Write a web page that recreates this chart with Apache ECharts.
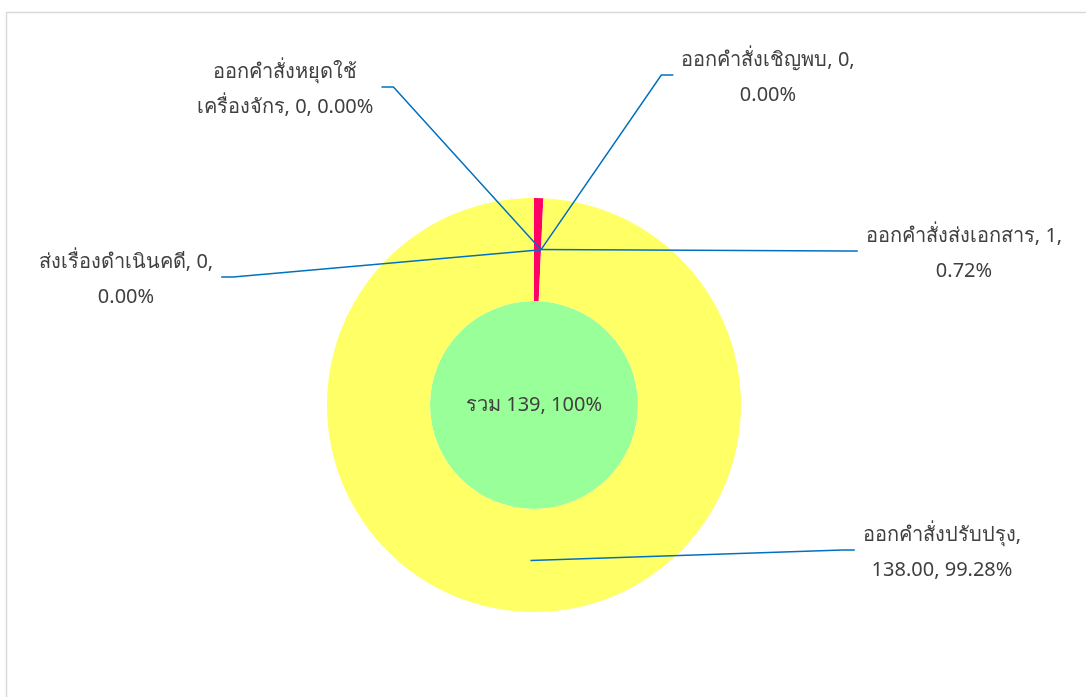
<!DOCTYPE html>
<html>
<head>
<meta charset="utf-8">
<script src="https://cdn.jsdelivr.net/npm/echarts@6/dist/echarts.min.js"></script>
<style>
html,body{margin:0;padding:0;background:#fff;}
#chart{width:1086px;height:697px;}
</style>
</head>
<body>
<div id="chart"></div>
<script>
// ---- data ----
const categories = ['ออกคำสั่งส่งเอกสาร', 'ออกคำสั่งเชิญพบ', 'ออกคำสั่งหยุดใช้เครื่องจักร', 'ส่งเรื่องดำเนินคดี', 'ออกคำสั่งปรับปรุง'];
const values = [1, 0, 0, 0, 138];
const valueLabels = ['1', '0', '0', '0', '138.00'];
const totalName = 'รวม';
const totalValue = 139;
const colors = ['#FF0066', '#FFFF66', '#FFFF66', '#FFFF66', '#FFFF66'];

// ---- layout / style (not data) ----
const CX = 534, CY = 405, R0 = 104, R1 = 207;
const labelPos = [
  {x: 964, y: 254, side: 'left'},
  {x: 768, y: 78, side: 'left'},
  {x: 285, y: 90, side: 'right'},
  {x: 126, y: 280, side: 'right'},
  {x: 942, y: 553, side: 'left'}
];
const wrapMode = ['beforePct', 'beforePct', 'inName:16', 'beforePct', 'afterName'];

const sum = values.reduce((a, b) => a + b, 0);
function labelText(i) {
  const name = categories[i];
  const pct = (values[i] / sum * 100).toFixed(2) + '%';
  const v = valueLabels[i];
  const mode = wrapMode[i];
  if (mode === 'beforePct') return name + ', ' + v + ',\n' + pct;
  if (mode === 'afterName') return name + ',\n' + v + ', ' + pct;
  const k = parseInt(mode.split(':')[1], 10);
  return name.slice(0, k) + '\n' + name.slice(k) + ', ' + v + ', ' + pct;
}

const FONT = "Tahoma, 'Leelawadee UI', 'Noto Sans', sans-serif";
const FS = 20;
const chart = echarts.init(document.getElementById('chart'), null, {renderer: 'canvas'});

const pieData = categories.map((c, i) => ({name: c, value: values[i], itemStyle: {color: colors[i]}}));
const overlayData = categories.map((c, i) => ({name: c, value: values[i]}));

const option = {
  animation: false,
  backgroundColor: '#ffffff',
  graphic: [{
    type: 'rect',
    shape: {x: 6.5, y: 12.5, width: 1200, height: 800},
    style: {fill: 'none', stroke: '#d9d9d9', lineWidth: 1.5},
    silent: true,
    z: 0
  }],
  series: [
    {
      type: 'pie',
      z: 2,
      center: [CX, CY],
      radius: [0, R0],
      silent: true,
      label: {
        show: true,
        position: 'center',
        formatter: () => totalName + ' ' + totalValue + ', 100%',
        color: '#404040',
        fontSize: FS,
        fontFamily: FONT
      },
      labelLine: {show: false},
      itemStyle: {color: '#99FF99', borderWidth: 0},
      emphasis: {disabled: true},
      data: [{name: totalName, value: totalValue}]
    },
    {
      type: 'pie',
      z: 2,
      center: [CX, CY],
      radius: [R0, R1],
      startAngle: 90,
      clockwise: true,
      silent: true,
      emphasis: {disabled: true},
      itemStyle: {borderWidth: 0},
      label: {show: false},
      labelLine: {show: false},
      data: pieData
    },
    {
      // transparent overlay carrying labels and leader lines above the ring
      type: 'pie',
      z: 5,
      center: [CX, CY],
      radius: [R0, R1],
      startAngle: 90,
      clockwise: true,
      silent: true,
      avoidLabelOverlap: false,
      minShowLabelAngle: 0,
      emphasis: {disabled: true},
      itemStyle: {color: 'rgba(0,0,0,0)', borderWidth: 0},
      label: {
        show: true,
        position: 'outside',
        formatter: p => labelText(p.dataIndex),
        color: '#404040',
        fontSize: FS,
        lineHeight: 35,
        align: 'center',
        fontFamily: FONT
      },
      labelLine: {show: true, lineStyle: {color: '#0070C0', width: 1.5}},
      labelLayout: function (params) {
        const i = params.dataIndex;
        const lp = labelPos[i];
        const w = params.labelRect.width;
        let anchor = [CX, CY - (R0 + R1) / 2];
        if (params.labelLinePoints && params.labelLinePoints[0]) {
          const p0 = params.labelLinePoints[0];
          const dx = p0[0] - CX, dy = p0[1] - CY;
          const d = Math.sqrt(dx * dx + dy * dy) || 1;
          const rm = (R0 + R1) / 2;
          anchor = [CX + dx / d * rm, CY + dy / d * rm];
        }
        const ly = lp.y - 3;
        let end, elbow;
        if (lp.side === 'left') {
          end = [lp.x - w / 2 - 8, ly];
          elbow = [end[0] - 12, ly];
        } else {
          end = [lp.x + w / 2 + 8, ly];
          elbow = [end[0] + 12, ly];
        }
        return {
          x: lp.x,
          y: lp.y,
          align: 'center',
          verticalAlign: 'middle',
          labelLinePoints: [anchor, elbow, end]
        };
      },
      data: overlayData
    }
  ]
};
chart.setOption(option);
</script>
</body>
</html>
